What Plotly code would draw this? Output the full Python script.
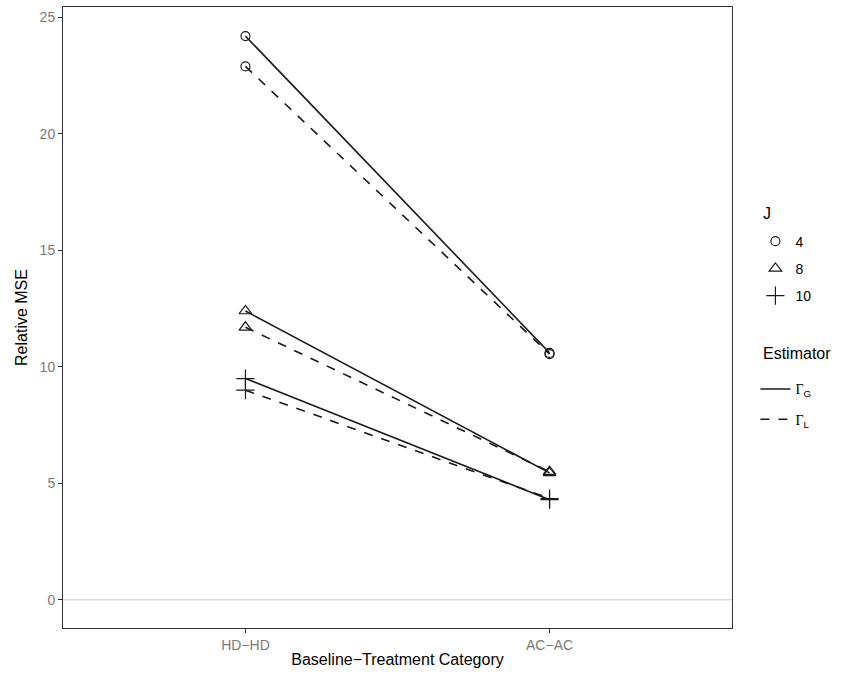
import plotly.graph_objects as go

categories = ["HD\u2212HD", "AC\u2212AC"]
J_levels = ["4", "8", "10"]
gamma_G = {"4": [24.2, 10.6], "8": [12.4, 5.45], "10": [9.5, 4.3]}
gamma_L = {"4": [22.9, 10.55], "8": [11.7, 5.5], "10": [9.0, 4.35]}

xpos = [1, 2]
symbols = {"4": "circle-open", "8": "triangle-up-open", "10": "cross-thin-open"}
sizes = {"4": 9, "8": 11, "10": 13}
ink = "#1a1a1a"
sans = "Liberation Sans, Arial, sans-serif"

fig = go.Figure()

fig.add_hline(y=0, line=dict(color="#dcdcdc", width=1.5), layer="below")

for j in J_levels:
    for vals, dash in ((gamma_G[j], "solid"), (gamma_L[j], "dash")):
        fig.add_trace(go.Scatter(
            x=xpos, y=vals, mode="lines+markers",
            line=dict(color=ink, width=1.6, dash=dash),
            marker=dict(symbol=symbols[j], size=sizes[j], color=ink,
                        line=dict(color=ink, width=1.2)),
            showlegend=False, hoverinfo="skip"))

# legend J (markers)
for j in J_levels:
    fig.add_trace(go.Scatter(
        x=[None], y=[None], mode="markers", name=j, legendgroup="J" + j,
        marker=dict(symbol=symbols[j], size=sizes[j], color=ink,
                    line=dict(color=ink, width=1.2)),
        legend="legend"))

# legend Estimator (lines)
for sub, dash in (("G", "solid"), ("L", "dash")):
    fig.add_trace(go.Scatter(
        x=[None], y=[None], mode="lines", legendgroup="E" + sub,
        name="<span style='font-family:Liberation Serif, serif'>\u0393</span><sub>" + sub + "</sub>",
        line=dict(color=ink, width=1.6, dash=dash),
        legend="legend2"))

fig.update_layout(
    width=845, height=676,
    margin=dict(l=63, r=113, t=7, b=48),
    plot_bgcolor="white", paper_bgcolor="white",
    font=dict(family=sans, size=14, color="#000"),
    showlegend=True,
    legend=dict(x=1.035, xanchor="left", y=0.648, yanchor="top",
                font=dict(size=14), itemwidth=30, tracegroupgap=6,
                bgcolor="rgba(0,0,0,0)"),
    legend2=dict(x=1.035, xanchor="left", y=0.41, yanchor="top",
                 font=dict(size=14), itemwidth=30, tracegroupgap=9,
                 bgcolor="rgba(0,0,0,0)"),
    annotations=[
        dict(text="J", x=1.043, y=0.668, xref="paper", yref="paper",
             xanchor="left", yanchor="middle", showarrow=False, font=dict(size=16)),
        dict(text="Estimator", x=1.043, y=0.442, xref="paper", yref="paper",
             xanchor="left", yanchor="middle", showarrow=False, font=dict(size=16)),
    ],
)

fig.update_xaxes(
    range=[0.4, 2.6], tickvals=xpos, ticktext=categories,
    showgrid=False, zeroline=False,
    showline=True, linecolor="#333333", linewidth=1, mirror=True,
    ticks="outside", ticklen=4, tickcolor="#333333",
    tickfont=dict(size=14, color="#7a7a7a"),
    title=dict(text="Baseline\u2212Treatment Category", font=dict(size=16, color="#000"), standoff=2),
)
fig.update_yaxes(
    range=[-1.21, 25.45], tickvals=[0, 5, 10, 15, 20, 25],
    showgrid=False, zeroline=False,
    showline=True, linecolor="#333333", linewidth=1, mirror=True,
    ticks="outside", ticklen=4, tickcolor="#333333",
    tickfont=dict(size=14, color="#7a7a7a"),
    title=dict(text="Relative MSE", font=dict(size=16, color="#000"), standoff=8),
)

fig.write_html("out.html")
